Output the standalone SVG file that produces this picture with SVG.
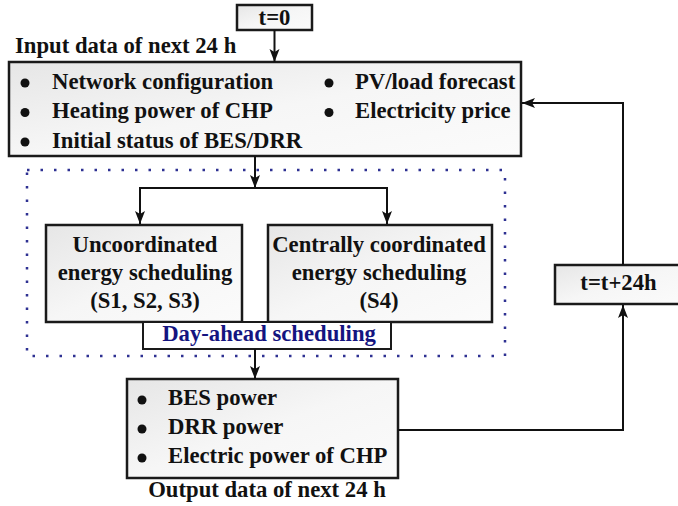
<svg xmlns="http://www.w3.org/2000/svg" width="678" height="506" viewBox="0 0 678 506">
<style>
.t{font-family:"Liberation Serif","Times New Roman",serif;font-weight:bold;font-size:22.7px;fill:#111}
.c{text-anchor:middle}
.box{fill:url(#g);stroke:#1a1a1a;stroke-width:2.5}
.ln{fill:none;stroke:#111;stroke-width:2}
.dot{fill:#111}
</style>
<defs>
<linearGradient id="g" x1="0" y1="0" x2="1" y2="1">
<stop offset="0" stop-color="#e6e6e6"/>
<stop offset="0.5" stop-color="#f6f6f6"/>
<stop offset="1" stop-color="#fbfbfb"/>
</linearGradient>
<marker id="a" markerUnits="userSpaceOnUse" markerWidth="14" markerHeight="12" refX="13" refY="5" orient="auto">
<path d="M0,0 L13,5 L0,10 L3,5 z" fill="#111"/>
</marker>
</defs>

<g id="dayahead-frame">
<rect x="27" y="170" width="478" height="186" fill="none" stroke="#2e3192" stroke-width="2.5" stroke-dasharray="2.5 11"/>
</g>

<g id="start">
<rect class="box" x="237" y="5" width="75" height="25"/>
<text class="t c" x="274.5" y="25">t=0</text>
</g>

<g id="input">
<text class="t" x="15" y="53">Input data of next 24 h</text>
<rect class="box" x="9" y="62" width="512" height="94"/>
<circle class="dot" cx="25" cy="83" r="4.5"/>
<circle class="dot" cx="25" cy="112.5" r="4.5"/>
<circle class="dot" cx="25" cy="142" r="4.5"/>
<text class="t" x="52" y="88.5">Network configuration</text>
<text class="t" x="52" y="118">Heating power of CHP</text>
<text class="t" x="52" y="147.5">Initial status of BES/DRR</text>
<circle class="dot" cx="329" cy="83" r="4.5"/>
<circle class="dot" cx="329" cy="112.5" r="4.5"/>
<text class="t" x="355" y="88.5">PV/load forecast</text>
<text class="t" x="355" y="118">Electricity price</text>
</g>

<g id="uncoordinated">
<rect class="box" x="46" y="225" width="196" height="97"/>
<text class="t c" x="145" y="252">Uncoordinated</text>
<text class="t c" x="145" y="280">energy scheduling</text>
<text class="t c" x="145" y="308">(S1, S2, S3)</text>
</g>

<g id="centralized">
<rect class="box" x="268" y="225" width="224" height="97"/>
<text class="t c" x="379" y="252">Centrally coordinated</text>
<text class="t c" x="379" y="280">energy scheduling</text>
<text class="t c" x="379" y="308">(S4)</text>
</g>

<g id="dayahead-label">
<rect x="143" y="322" width="248" height="27" fill="#fff" stroke="#1a1a1a" stroke-width="2"/>
<text class="t c" x="269" y="341" style="fill:#141480">Day-ahead scheduling</text>
</g>

<g id="output">
<rect class="box" x="127" y="379" width="271" height="99"/>
<circle class="dot" cx="142" cy="400" r="4.5"/>
<circle class="dot" cx="142" cy="429" r="4.5"/>
<circle class="dot" cx="142" cy="458" r="4.5"/>
<text class="t" x="168" y="405">BES power</text>
<text class="t" x="168" y="434">DRR power</text>
<text class="t" x="168" y="463">Electric power of CHP</text>
<text class="t c" x="267" y="497">Output data of next 24 h</text>
</g>

<g id="update">
<rect class="box" x="555" y="265" width="127" height="39"/>
<text class="t c" x="618.5" y="290">t=t+24h</text>
</g>

<g id="connectors">
<line class="ln" x1="274.5" y1="30" x2="274.5" y2="62" marker-end="url(#a)"/>
<line class="ln" x1="255" y1="156" x2="255" y2="188" marker-end="url(#a)"/>
<polyline class="ln" points="140,224 140,188 387,188 387,224"/>
<line class="ln" x1="140" y1="188" x2="140" y2="224" marker-end="url(#a)"/>
<line class="ln" x1="387" y1="188" x2="387" y2="224" marker-end="url(#a)"/>
<line class="ln" x1="255" y1="349" x2="255" y2="379" marker-end="url(#a)"/>
<polyline class="ln" points="398,430 623,430 623,305" marker-end="url(#a)"/>
<polyline class="ln" points="623,265 623,103 522,103" marker-end="url(#a)"/>
</g>
</svg>
